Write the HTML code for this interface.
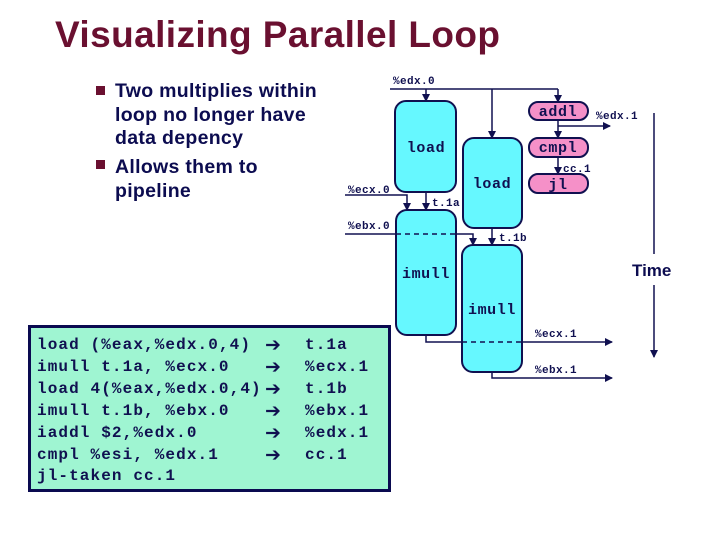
<!DOCTYPE html>
<html><head><style>
html,body{margin:0;padding:0;background:#fff;}
svg{display:block;}
.m{font-family:"Liberation Mono",monospace;font-weight:bold;fill:#101050;}
.s{font-family:"Liberation Sans",sans-serif;font-weight:bold;fill:#0c0c50;}
</style></head><body>
<svg width="720" height="540" viewBox="0 0 720 540" xmlns="http://www.w3.org/2000/svg">
<defs><marker id="a" markerWidth="8" markerHeight="8" refX="7" refY="4" orient="auto" markerUnits="userSpaceOnUse"><path d="M0,0 L8,4 L0,8 z" fill="#101050"/></marker></defs>
<text x="55" y="47" font-family="Liberation Sans,sans-serif" font-weight="bold" font-size="37" fill="#6a1030" textLength="445">Visualizing Parallel Loop</text>
<rect x="96" y="86" width="9" height="9" fill="#6a1030"/>
<rect x="96" y="160" width="9" height="9" fill="#6a1030"/>
<g class="s" font-size="19.5" letter-spacing="0.3">
<text x="115" y="97">Two multiplies within</text>
<text x="115" y="121">loop no longer have</text>
<text x="115" y="144">data depency</text>
<text x="115" y="173">Allows them to</text>
<text x="115" y="197">pipeline</text>
</g>
<rect x="29.5" y="326.5" width="360" height="164" fill="#9ff5d2" stroke="#0a0a50" stroke-width="3"/>
<g class="m" font-size="16" letter-spacing="1.1">
<text x="37" y="349">load (%eax,%edx.0,4)</text>
<text x="37" y="371">imull t.1a, %ecx.0</text>
<text x="37" y="393">load 4(%eax,%edx.0,4)</text>
<text x="37" y="415">imull t.1b, %ebx.0</text>
<text x="37" y="437">iaddl $2,%edx.0</text>
<text x="37" y="459">cmpl %esi, %edx.1</text>
<text x="37" y="480">jl-taken cc.1</text>
<text x="305" y="349">t.1a</text>
<text x="305" y="371">%ecx.1</text>
<text x="305" y="393">t.1b</text>
<text x="305" y="415">%ebx.1</text>
<text x="305" y="437">%edx.1</text>
<text x="305" y="459">cc.1</text>
</g>
<g font-family="DejaVu Sans,sans-serif" font-weight="bold" font-size="19" fill="#101050">
<text x="265" y="351">➔</text>
<text x="265" y="373">➔</text>
<text x="265" y="395">➔</text>
<text x="265" y="417">➔</text>
<text x="265" y="439">➔</text>
<text x="265" y="461">➔</text>
</g>
<g stroke="#101050" stroke-width="1.5" fill="none">
<path d="M390,89 H558"/>
<path d="M426,89 V101" marker-end="url(#a)"/>
<path d="M492,89 V138" marker-end="url(#a)"/>
<path d="M558,89 V102" marker-end="url(#a)"/>
<path d="M558,120 V138" marker-end="url(#a)"/>
<path d="M558,126 H610" marker-end="url(#a)"/>
<path d="M558,157 V174" marker-end="url(#a)"/>
<path d="M345,195 H407 V210" marker-end="url(#a)"/>
<path d="M426,192 V210" marker-end="url(#a)"/>
<path d="M345,234 H396"/>
<path d="M456,234 H473 V245" marker-end="url(#a)"/>
<path d="M492,228 V245" marker-end="url(#a)"/>
<path d="M426,335 V342 H462"/>
<path d="M522,342 H612" marker-end="url(#a)"/>
<path d="M492,372 V378 H612" marker-end="url(#a)"/>
<path d="M654,113 V254"/>
<path d="M654,285 V357" marker-end="url(#a)"/>
</g>
<g fill="#66f8ff" stroke="#101050" stroke-width="2">
<rect x="395" y="101" width="61" height="91" rx="11"/>
<rect x="463" y="138" width="59" height="90" rx="11"/>
<rect x="396" y="210" width="60" height="125" rx="11"/>
<rect x="462" y="245" width="60" height="127" rx="11"/>
</g>
<g fill="#f590c8" stroke="#101050" stroke-width="2">
<rect x="529" y="102" width="59" height="18" rx="9"/>
<rect x="529" y="138" width="59" height="19" rx="9"/>
<rect x="529" y="174" width="59" height="19" rx="9"/>
</g>
<path d="M396,234 H456" stroke="#101050" stroke-width="1.5" stroke-dasharray="5,4" fill="none"/>
<path d="M462,342 H522" stroke="#101050" stroke-width="1.5" stroke-dasharray="5,4" fill="none"/>
<g class="m" font-size="15" letter-spacing="0.6" text-anchor="middle">
<text x="426" y="152">load</text>
<text x="492" y="188">load</text>
<text x="426" y="278">imull</text>
<text x="492" y="314">imull</text>
<text x="558" y="116">addl</text>
<text x="558" y="152">cmpl</text>
<text x="558" y="189">jl</text>
</g>
<g class="m" font-size="11" letter-spacing="0.4">
<text x="393" y="84">%edx.0</text>
<text x="596" y="119">%edx.1</text>
<text x="563" y="172">cc.1</text>
<text x="348" y="193">%ecx.0</text>
<text x="348" y="229">%ebx.0</text>
<text x="432" y="206">t.1a</text>
<text x="499" y="241">t.1b</text>
<text x="535" y="337">%ecx.1</text>
<text x="535" y="373">%ebx.1</text>
</g>
<text x="632" y="276" class="s" font-size="17">Time</text>
</svg>
</body></html>
